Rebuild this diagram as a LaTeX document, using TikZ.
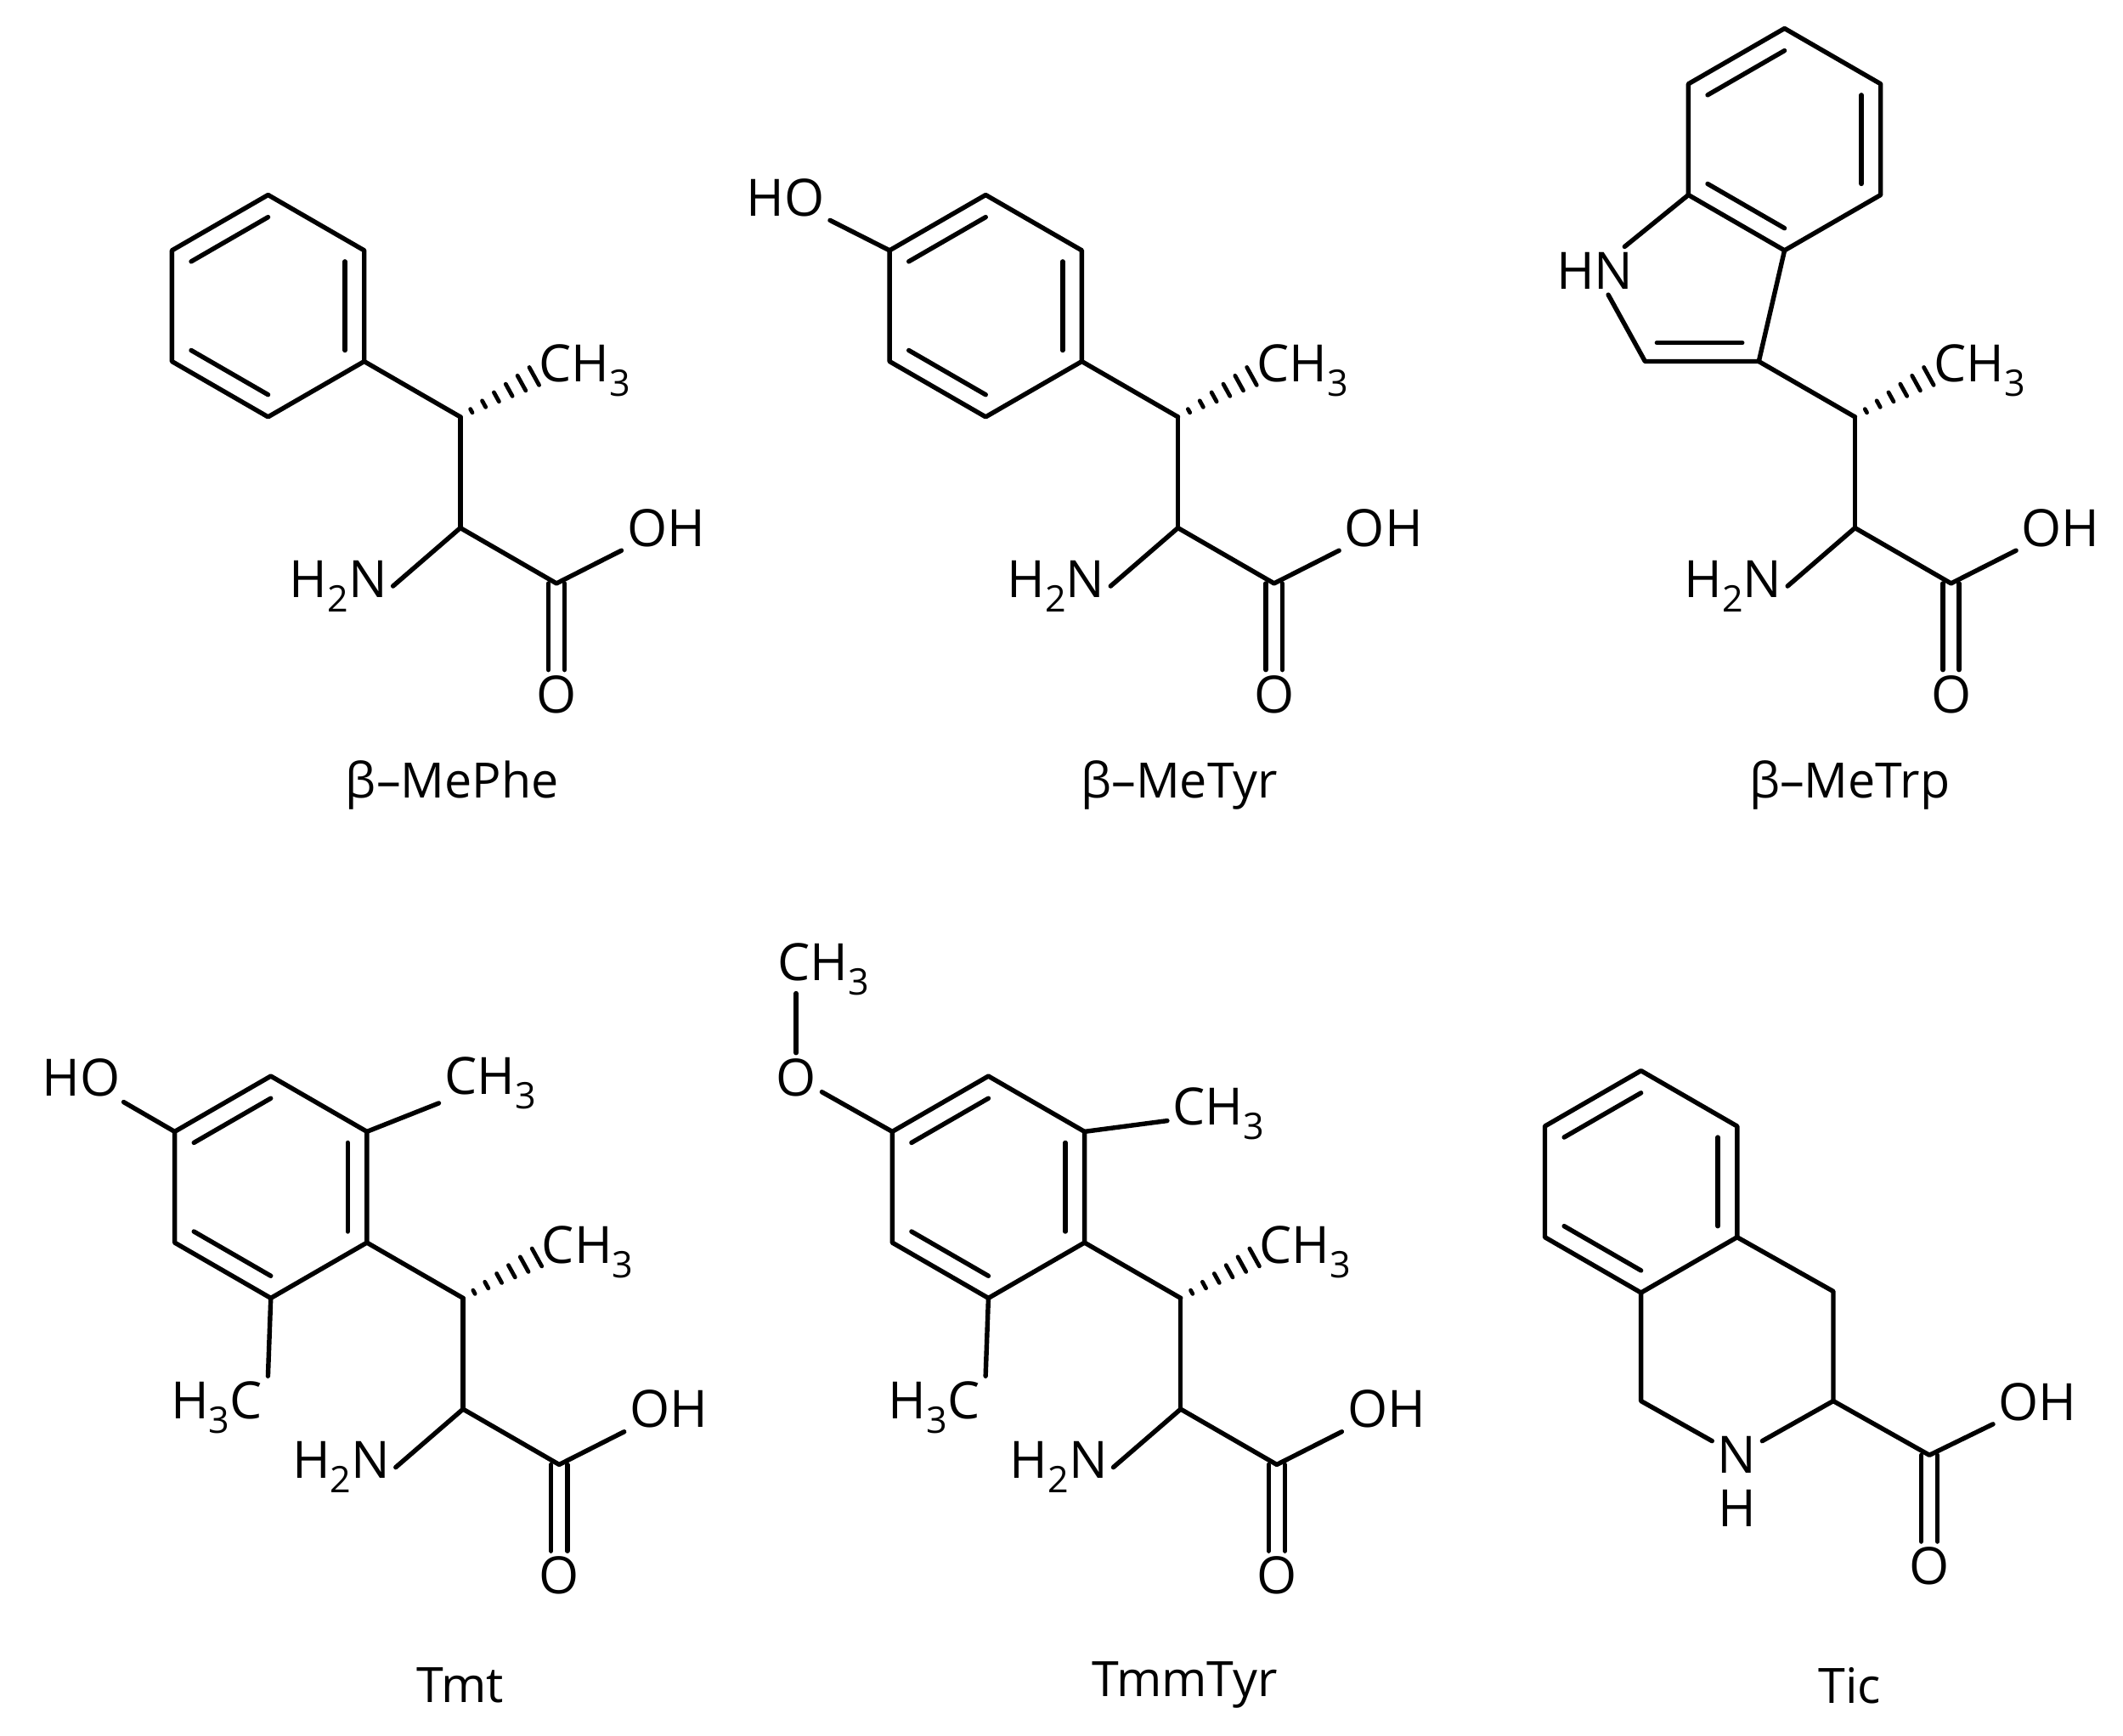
\documentclass[tikz,border=0pt]{standalone}
\usepackage{fontspec}
\setmainfont{Open Sans}
\usetikzlibrary{calc}
\newcommand\sbs[1]{\raisebox{-0.28em}{\fontsize{27}{28}\selectfont #1}}
\newcommand\benz[3]{%
  \coordinate (#3c) at (#1,#2);
  \coordinate (#3t) at (#1,#2-82);
  \coordinate (#3ur) at (#1+71,#2-41);
  \coordinate (#3lr) at (#1+71,#2+41);
  \coordinate (#3b) at (#1,#2+82);
  \coordinate (#3ll) at (#1-71,#2+41);
  \coordinate (#3ul) at (#1-71,#2-41);
  \draw[bond] (#3t)--(#3ur)--(#3lr)--(#3b)--(#3ll)--(#3ul)--cycle;
  \draw[bond] ($(#3ul)!0.2!(#3c)$)--($(#3t)!0.2!(#3c)$);
  \draw[bond] ($(#3ur)!0.2!(#3c)$)--($(#3lr)!0.2!(#3c)$);
  \draw[bond] ($(#3ll)!0.2!(#3c)$)--($(#3b)!0.2!(#3c)$);
}
\newcommand\amino[3]{%
  \coordinate (#3cb) at (#1,#2);
  \coordinate (#3ca) at (#1,#2+82);
  \coordinate (#3cc) at (#1+71,#2+123);
  \coordinate (#3he) at (#1+58,#2-32);
  \node[atom] (#3n) at (#1-90,#2+125) {H\sbs{2}N};
  \node[atom] (#3oh) at (#1+152,#2+82) {OH};
  \node[atom] (#3o) at (#1+71,#2+205) {O};
  \node[atom] (#3me) at (#1+92,#2-34) {CH\sbs{3}};
  \draw[bond] (#3cb)--(#3ca);
  \draw[bond] (#3ca)--(#3n.east);
  \draw[bond] (#3ca)--(#3cc)--(#3oh);
  \draw[bond] ($(#3cc)+(-6,0)$)--($(#3o.north)+(-6,0)$);
  \draw[bond] ($(#3cc)+(6,0)$)--($(#3o.north)+(6,0)$);
  \foreach \t/\w in {0.14/1.5,0.3/2.7,0.46/3.9,0.62/5.1,0.78/6.3,0.94/7.5}
    \draw[hash] ($(#3cb)!\t!(#3he)!\w pt!90:(#3he)$)--($(#3cb)!\t!(#3he)!\w pt!-90:(#3he)$);
}
\begin{document}
\begin{tikzpicture}[x=1pt,y=-1pt,
  bond/.style={line width=3.4pt,line cap=round,line join=round},
  hash/.style={line width=3pt,line cap=round},
  atom/.style={font=\fontsize{38}{40}\selectfont,inner sep=4pt},
  captxt/.style={font=\fontsize{36}{40}\selectfont,inner sep=0pt}]
\useasboundingbox (0,0) rectangle (1568,1282);
% beta-MePhe
\benz{198}{226}{a}
\amino{340}{308}{a}
\draw[bond] (alr)--(acb);
\node[captxt] (capa) at (334,580) {β–MePhe};
% beta-MeTyr
\benz{728}{226}{b}
\amino{870}{308}{b}
\draw[bond] (blr)--(bcb);
\node[atom] (bho) at (580,146) {HO};
\draw[bond] (bul)--(bho);
\node[captxt] (capb) at (871,580) {β–MeTyr};
% beta-MeTrp
\amino{1370}{308}{c}
\benz{1318}{103}{k}
\coordinate (c3) at (1299,267);
\coordinate (c2) at (1215,267);
\coordinate (cp) at (1250,212);
\node[atom] (cnh) at (1178,200) {HN};
\draw[bond] (c3)--(ccb);
\draw[bond] (kb)--(c3)--(c2)--(cnh);
\draw[bond] (cnh)--(kll);
\draw[bond] ($(c3)!0.25!(cp)$)--($(c2)!0.25!(cp)$);
\node[captxt] (capc) at (1366,580) {β–MeTrp};
% Tmt
\benz{200}{877}{d}
\amino{342}{959}{d}
\draw[bond] (dlr)--(dcb);
\node[atom] (dho) at (60,796) {HO};
\draw[bond] (dul)--(dho);
\node[atom] (dme1) at (362,800) {CH\sbs{3}};
\draw[bond] (dur)--(dme1);
\node[atom] (dme2) at (160,1040) {H\sbs{3}C};
\draw[bond] (db)--(dme2.north east);
\node[captxt] (capd) at (340,1245) {Tmt};
% TmmTyr
\benz{730}{877}{e}
\amino{872}{959}{e}
\draw[bond] (elr)--(ecb);
\node[atom] (eo) at (588,796) {O};
\node[atom] (eome) at (608,716) {CH\sbs{3}};
\draw[bond] (eul)--(eo);
\draw[bond] (eo.north)--($(eo.north)+(0,-44)$);
\node[atom] (eme1) at (900,823) {CH\sbs{3}};
\draw[bond] (eur)--(eme1);
\node[atom] (eme2) at (690,1040) {H\sbs{3}C};
\draw[bond] (eb)--(eme2.north east);
\node[captxt] (cape) at (875,1245) {TmmTyr};
% Tic
\benz{1212}{873}{f}
\coordinate (fc4) at (1354,954);
\coordinate (fc3) at (1354,1035);
\coordinate (fc1) at (1212,1035);
\coordinate (fcc) at (1425,1075);
\node[atom] (fn) at (1283,1075) {N};
\node[atom] (fh) at (1283,1114) {H};
\node[atom] (foh) at (1505,1036) {OH};
\node[atom] (fo) at (1425,1157) {O};
\draw[bond] (flr)--(fc4)--(fc3)--(fn);
\draw[bond] (fb)--(fc1)--(fn);
\draw[bond] (fc3)--(fcc)--(foh);
\draw[bond] ($(fcc)+(-6,0)$)--($(fo.north)+(-6,0)$);
\draw[bond] ($(fcc)+(6,0)$)--($(fo.north)+(6,0)$);
\node[captxt] (capf) at (1366,1245) {Tic};
\end{tikzpicture}
\end{document}
